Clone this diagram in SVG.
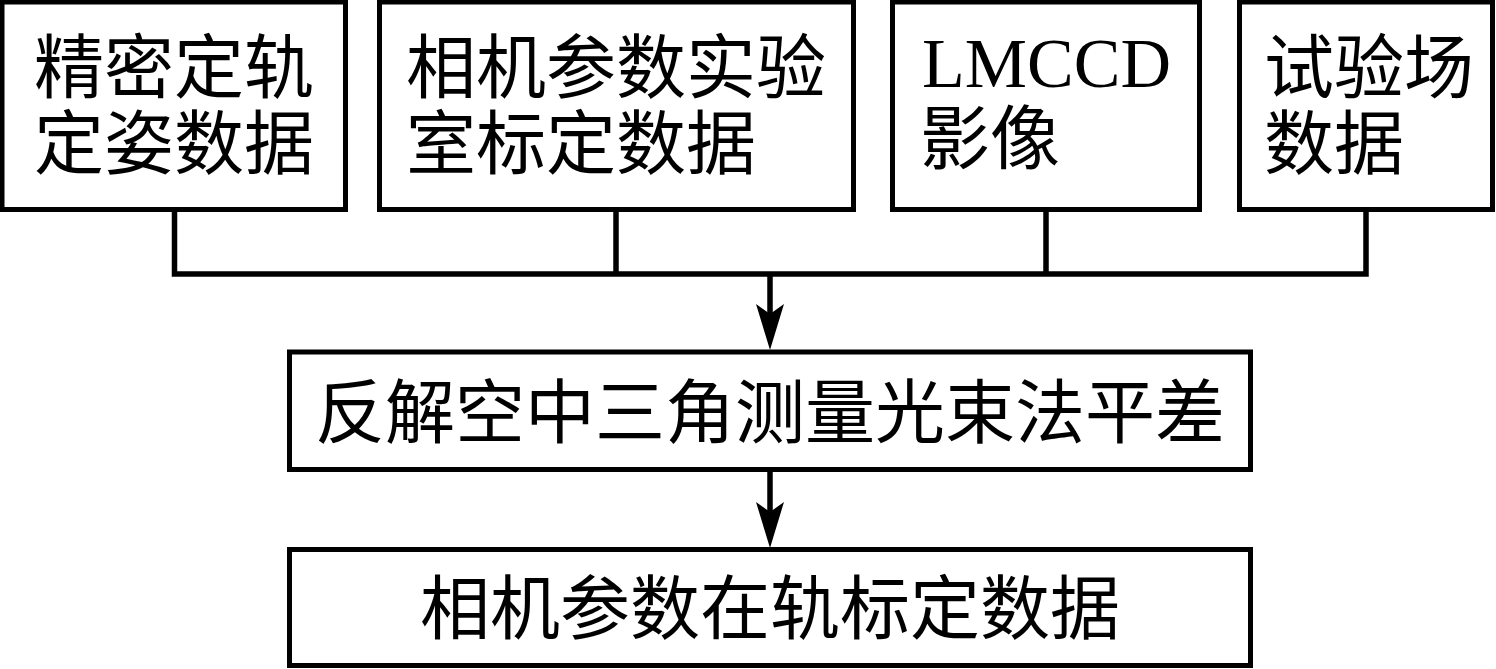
<svg xmlns="http://www.w3.org/2000/svg" width="1496" height="669" viewBox="0 0 1496 669">
<style>
.box{fill:#fff;stroke:#000;stroke-width:5}
.t{font-family:"Noto Sans CJK SC","Noto Sans CJK TC",sans-serif;font-size:70px;fill:#000}
.lat{font-family:"Liberation Serif",serif;font-size:70px;fill:#000}
.c{fill:none;stroke:#000;stroke-width:5.5}
</style>
<defs>
<marker id="ah" markerUnits="userSpaceOnUse" viewBox="0 -15 50 30" markerWidth="50" markerHeight="30" refX="10" refY="0" orient="auto">
<path d="M0,-14 L10,0 L0,14 L46,0 Z" fill="#000"/>
</marker>
</defs>
<rect width="1496" height="669" fill="#fff"/>
<g id="connectors">
<polyline class="c" points="174.5,209 174.5,274 1366,274 1366,209"/>
<line class="c" x1="616" y1="209" x2="616" y2="274"/>
<line class="c" x1="1046" y1="209" x2="1046" y2="274"/>
<line class="c" x1="770" y1="274" x2="770" y2="314" marker-end="url(#ah)"/>
<line class="c" x1="770" y1="469" x2="770" y2="512" marker-end="url(#ah)"/>
</g>
<g id="n1">
<rect class="box" x="2" y="2" width="343.5" height="207.5"/>
<text class="t" text-anchor="middle"><tspan x="174" y="93">精密定轨</tspan><tspan x="174" y="169">定姿数据</tspan></text>
</g>
<g id="n2">
<rect class="box" x="379.5" y="2" width="474" height="207.5"/>
<text class="t"><tspan x="406" y="93">相机参数实验</tspan><tspan x="406" y="169">室标定数据</tspan></text>
</g>
<g id="n3">
<rect class="box" x="892.5" y="2" width="307" height="207.5"/>
<text class="lat"><tspan x="922" y="87">LMCCD</tspan><tspan class="t" x="920" y="164">影像</tspan></text>
</g>
<g id="n4">
<rect class="box" x="1239.5" y="2" width="253" height="207.5"/>
<text class="t"><tspan x="1264" y="93">试验场</tspan><tspan x="1264" y="169">数据</tspan></text>
</g>
<g id="n5">
<rect class="box" x="289.5" y="352" width="961" height="117.5"/>
<text class="t" x="770" y="438" text-anchor="middle">反解空中三角测量光束法平差</text>
</g>
<g id="n6">
<rect class="box" x="289.5" y="549.5" width="961" height="116"/>
<text class="t" x="770" y="634" text-anchor="middle">相机参数在轨标定数据</text>
</g>
</svg>
